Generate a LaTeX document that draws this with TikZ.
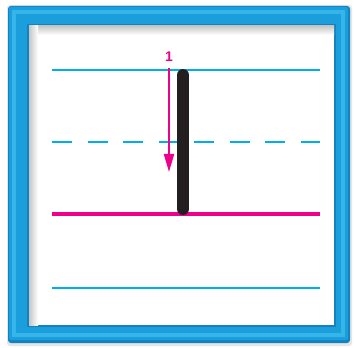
\documentclass[tikz,border=0pt]{standalone}
\usepackage{fontspec}
\newfontfamily\labelfont{Liberation Sans}
\usetikzlibrary{arrows.meta}
\definecolor{guide}{HTML}{00AEEF}
\definecolor{base}{HTML}{EC008C}
\definecolor{ink}{HTML}{231F20}
\definecolor{frameA}{HTML}{1A9FDC}
\definecolor{frameB}{HTML}{35B5EA}
\definecolor{frameC}{HTML}{1383C0}
\tikzset{
  guideline/.style={draw=guide,line width=2pt},
  baseline/.style={draw=base,line width=4pt},
  strokeline/.style={draw=ink,line width=12pt,line cap=round},
  steparrow/.style={draw=base,line width=2pt,-{Triangle[length=18pt,width=10pt]}},
  steplabel/.style={text=base,font=\labelfont\bfseries\fontsize{14}{14}\selectfont,inner sep=0pt}
}
\begin{document}
\begin{tikzpicture}[x=1pt,y=-1pt]
\useasboundingbox (0,0) rectangle (355,347);
\fill[white] (0,0) rectangle (355,347);
% frame
\fill[black!10,rounded corners=3pt] (7,5) rectangle (352,346);
\fill[frameC,rounded corners=3pt] (8,6) rectangle (350,343);
\fill[frameA,rounded corners=2pt] (9,7) rectangle (348,340);
\fill[frameB] (12,10) rectangle (345,337);
\fill[frameA] (16,14) rectangle (341,333);
\fill[frameC] (27,24) rectangle (336,327);
\fill[white] (29,26) rectangle (334,325);
\shade[top color=black!22,bottom color=white] (29,26) rectangle (334,35);
\shade[left color=black!22,right color=white] (29,26) rectangle (38,325);
% guide lines
\coordinate (t1) at (52,70);  \coordinate (t2) at (320,70);
\coordinate (m1) at (52,142); \coordinate (m2) at (320,142);
\coordinate (b1) at (52,214); \coordinate (b2) at (320,214);
\coordinate (d1) at (52,288); \coordinate (d2) at (320,288);
\draw[guideline] (t1) -- (t2);
\draw[guideline,dash pattern=on 20pt off 15.5pt] (m1) -- (m2);
\draw[baseline] (b1) -- (b2);
\draw[guideline] (d1) -- (d2);
% stroke
\coordinate (s1) at (183,75);
\coordinate (s2) at (183,209);
\draw[strokeline] (s1) -- (s2);
% arrow
\node[steplabel] (lab) at (169,57) {1};
\coordinate (a1) at (169,68);
\coordinate (a2) at (169,172);
\draw[steparrow] (a1) -- (a2);
\end{tikzpicture}
\end{document}
